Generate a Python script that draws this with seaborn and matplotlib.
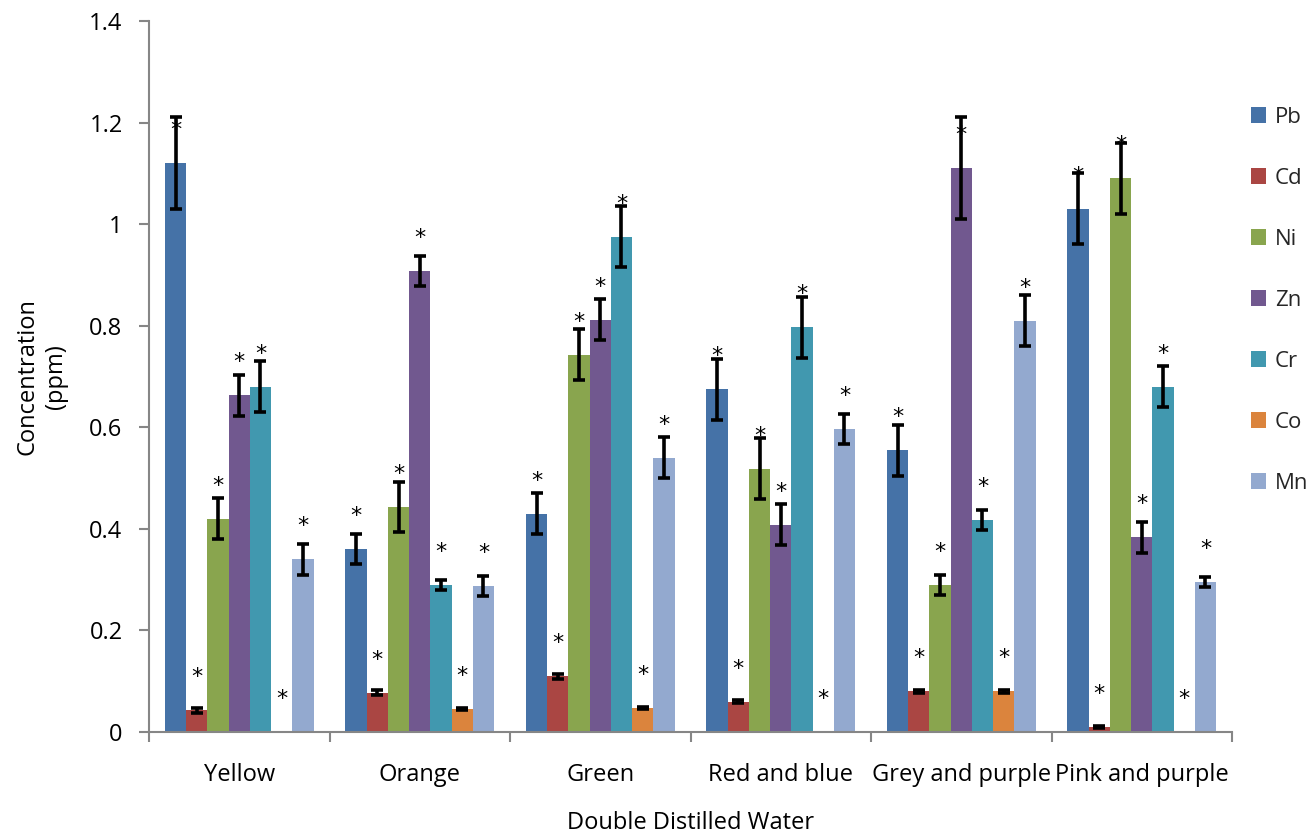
import numpy as np
import pandas as pd
import matplotlib
matplotlib.use("Agg")
import matplotlib.pyplot as plt
from matplotlib.ticker import FixedLocator, FuncFormatter
from matplotlib.patches import Patch
import seaborn as sns

# Sample groups and metals
samples = ["Yellow", "Orange", "Green", "Red and blue", "Grey and purple", "Pink and purple"]
metals = ["Pb", "Cd", "Ni", "Zn", "Cr", "Co", "Mn"]

# Mean concentration (ppm), one list per metal, in sample order
pb = [1.12, 0.36, 0.43, 0.675, 0.555, 1.03]
cd = [0.043, 0.077, 0.11, 0.06, 0.08, 0.01]
ni = [0.42, 0.443, 0.743, 0.518, 0.29, 1.09]
zn = [0.663, 0.908, 0.812, 0.408, 1.11, 0.383]
cr = [0.68, 0.29, 0.975, 0.797, 0.418, 0.68]
co = [0.0, 0.046, 0.048, 0.0, 0.08, 0.0]
mn = [0.34, 0.288, 0.54, 0.597, 0.81, 0.296]

# Standard deviations
pb_sd = [0.09, 0.03, 0.04, 0.06, 0.05, 0.07]
cd_sd = [0.005, 0.005, 0.005, 0.003, 0.003, 0.002]
ni_sd = [0.04, 0.05, 0.05, 0.06, 0.02, 0.07]
zn_sd = [0.04, 0.03, 0.04, 0.04, 0.10, 0.03]
cr_sd = [0.05, 0.01, 0.06, 0.06, 0.02, 0.04]
co_sd = [0.0, 0.002, 0.002, 0.0, 0.003, 0.0]
mn_sd = [0.03, 0.02, 0.04, 0.03, 0.05, 0.01]

colors = ["#4572A7", "#AA4643", "#89A54E", "#71588F", "#4198AF", "#DB843D", "#93A9CF"]

means = [pb, cd, ni, zn, cr, co, mn]
sds = [pb_sd, cd_sd, ni_sd, zn_sd, cr_sd, co_sd, mn_sd]

df = pd.DataFrame({
    "Sample": [s for _ in metals for s in samples],
    "Metal": [m for m in metals for _ in samples],
    "ppm": [v for series in means for v in series],
    "sd": [v for series in sds for v in series],
})

sns.set_theme(style="white")
plt.rcParams["font.family"] = ["Open Sans", "DejaVu Sans"]

fig = plt.figure(figsize=(13.16, 8.36), dpi=100)
ax = fig.add_axes([149 / 1316, 1 - 732 / 836, (1232 - 149) / 1316, (732 - 21) / 836])

sns.barplot(data=df, x="Sample", y="ppm", hue="Metal", order=samples,
            hue_order=metals, palette=colors, saturation=1, errorbar=None,
            width=7 / 8.5, linewidth=0, ax=ax, legend=False)

# Error bars and significance markers on every bar
for metal, container in zip(metals, ax.containers):
    sub = df[df["Metal"] == metal].set_index("Sample").loc[samples]
    for bar, (val, sd) in zip(container, zip(sub["ppm"], sub["sd"])):
        cx = bar.get_x() + bar.get_width() / 2
        if val > 0:
            ax.errorbar(cx, val, yerr=sd, fmt="none", ecolor="black",
                        elinewidth=2.6, capsize=4.6, capthick=2.6, zorder=4)
        ax.annotate("*", (cx, val), xytext=(0, 33), textcoords="offset pixels",
                    ha="center", va="center", fontsize=16, color="black",
                    family="DejaVu Sans", zorder=5)

# Axes styling
ax.set_ylim(0, 1.4)
ax.set_xlim(-0.5, len(samples) - 0.5)
ax.set_yticks(np.arange(0, 1.41, 0.2))
ax.yaxis.set_major_formatter(FuncFormatter(lambda v, _: f"{v:g}"))
for s in ["top", "right"]:
    ax.spines[s].set_visible(False)
for s in ["left", "bottom"]:
    ax.spines[s].set_color("#868686")
    ax.spines[s].set_linewidth(1.5)

ax.tick_params(axis="y", which="major", direction="out", length=7, width=1.5,
               color="#868686", left=True, pad=12, labelsize=17, labelcolor="black")
ax.tick_params(axis="x", which="major", length=0, pad=22, labelsize=17, labelcolor="black")
ax.xaxis.set_minor_locator(FixedLocator(np.arange(-0.5, len(samples), 1.0)))
ax.tick_params(axis="x", which="minor", direction="out", length=7, width=1.5,
               color="#868686", bottom=True)

ax.set_xlabel("Double Distilled Water", fontsize=17, color="black")
ax.xaxis.set_label_coords(0.5, -0.111)
ax.set_ylabel("Concentration\n(ppm)", fontsize=17, color="black", linespacing=1.25)
ax.yaxis.set_label_coords(-0.075, 0.5)

handles = [Patch(facecolor=c, edgecolor="none") for c in colors]
fig.legend(handles, metals, loc="upper left", bbox_to_anchor=(1242 / 1316, 1 - 98 / 836),
           frameon=False, fontsize=16, handlelength=0.68, handleheight=0.68,
           handletextpad=0.4, labelspacing=1.8, borderaxespad=0)

fig.savefig("out.png", dpi=100)
